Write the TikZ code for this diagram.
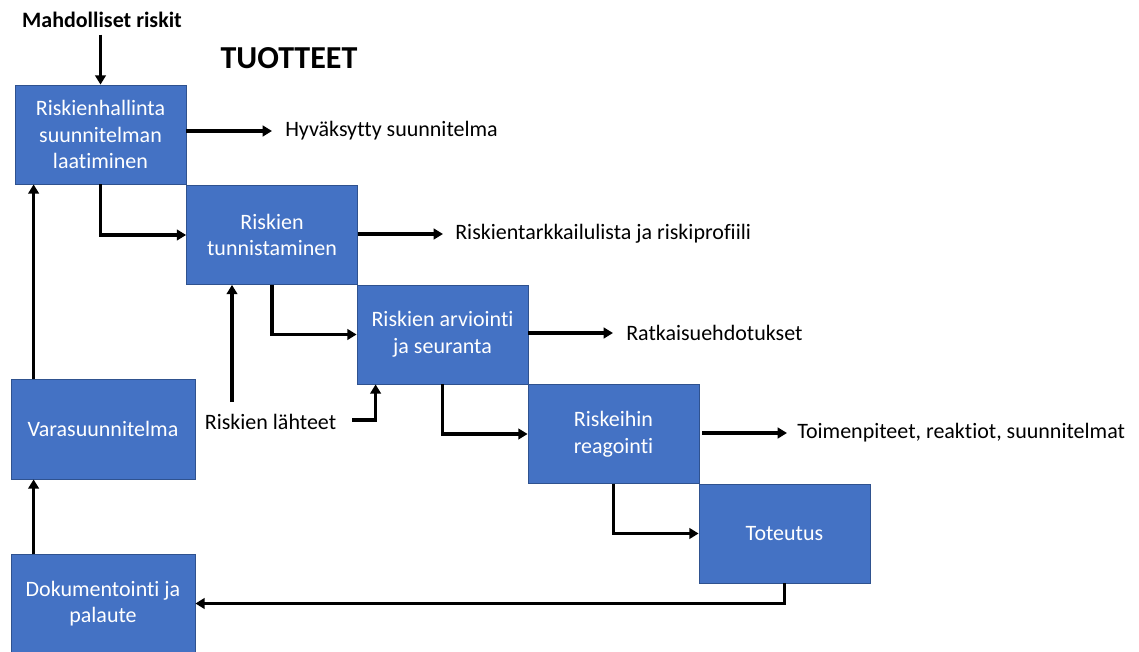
\documentclass[tikz,border=0pt]{standalone}
\usepackage{fontspec}
\setmainfont{Carlito}[RawFeature=-liga]
\usetikzlibrary{arrows.meta,calc}
\definecolor{boxblue}{HTML}{4472C4}
\definecolor{boxedge}{HTML}{2F528F}
\tikzset{
  x=0.75pt,y=-0.75pt,
  procbox/.style={draw=boxedge,line width=0.6pt,fill=boxblue,text=white,align=center,
    minimum width=128.25pt,minimum height=74.25pt,inner sep=0pt,
    font=\fontsize{16.5}{20}\selectfont},
  sidebox/.style={procbox,minimum width=138pt,minimum height=75pt},
  outlabel/.style={anchor=west,inner sep=0pt,font=\fontsize{16.5}{20}\selectfont},
  arr/.style={line width=2.6pt,-{Triangle[length=7pt,width=8pt]}},
}
\begin{document}
\begin{tikzpicture}
\useasboundingbox (0,0) rectangle (1139,652);
% title texts
\node[font=\bfseries\fontsize{16.5}{20}\selectfont,inner sep=0pt] (risks) at (102,20) {Mahdolliset riskit};
\node[font=\bfseries\fontsize{24}{28}\selectfont,inner sep=0pt] (prod) at (289,58) {TUOTTEET};
% process boxes
\node[procbox] (b1) at (100.5,134.5) {Riskienhallinta\\suunnitelman\\laatiminen};
\node[procbox] (b2) at (272,235) {Riskien\\tunnistaminen};
\node[procbox] (b3) at (442.5,334.5) {Riskien arviointi\\ja seuranta};
\node[procbox] (b4) at (613.5,434) {Riskeihin\\reagointi};
\node[procbox] (b5) at (784.5,533.5) {Toteutus};
\node[sidebox] (vara) at (103,429) {Varasuunnitelma};
\node[sidebox,minimum height=73pt] (dok) at (103,603.5) {Dokumentointi ja\\palaute};
% outputs
\node[outlabel] (o1) at (285,131) {Hyväksytty suunnitelma};
\node[outlabel] (o2) at (455,234) {Riskientarkkailulista ja riskiprofiili};
\node[outlabel] (o3) at (626,333) {Ratkaisuehdotukset};
\node[outlabel] (o4) at (797,433) {Toimenpiteet, reaktiot, suunnitelmat};
\node[inner sep=0pt,font=\fontsize{16.5}{20}\selectfont] (src) at (270.5,422) {Riskien lähteet};
% connectors
\draw[arr] ([yshift=-5pt]risks.south -| b1.north) -- (b1.north);
\draw[arr] (o1.west -| b1.east) -- ([xshift=-9.75pt]o1.west);
\draw[arr] (o2.west -| b2.east) -- ([xshift=-9pt]o2.west);
\draw[arr] (o3.west -| b3.east) -- ([xshift=-9.75pt]o3.west);
\draw[arr] ([xshift=2pt]o4.west -| b4.east) -- ([xshift=-7.5pt]o4.west);
\draw[arr] (b1.south) |- (b2.west);
\draw[arr] (b2.south) |- (b3.west);
\draw[arr] (b3.south) |- (b4.west);
\draw[arr] (b4.south) |- (b5.west);
\draw[arr] (b5.south) |- (dok.east);
\coordinate (dk) at ($(dok.north west)+(23,0)$);
\coordinate (va) at ($(vara.north west)+(23,0)$);
\draw[arr] (dk) -- (dk |- vara.south);
\draw[arr] (va) -- (va |- b1.south);
\coordinate (s1) at (232,402);
\draw[arr] (s1) -- (s1 |- b2.south);
\coordinate (s2) at ($(b3.south west)+(19,0)$);
\draw[arr] ($(src.east)+(16,-2)$) -| (s2);
\end{tikzpicture}
\end{document}
